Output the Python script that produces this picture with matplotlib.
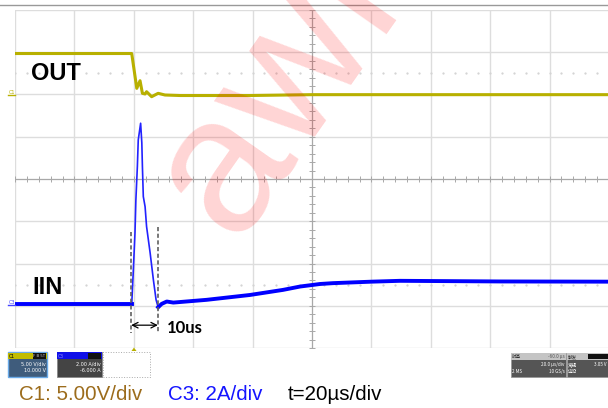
import matplotlib
matplotlib.use("Agg")
import matplotlib.pyplot as plt
from matplotlib.patches import Rectangle, Polygon
import numpy as np

# time in us from left edge of screen (20 us/div, 10 div)
out_t = [0, 39.3, 41.0, 42.1, 42.9, 43.8, 44.3, 46.0, 48.2, 50.5, 55.6, 79, 100, 200]
out_v = [4.85, 4.85, 0.73, 1.63, 0.14, 0.06, 0.33, -0.26, 0.14, -0.06, -0.12, -0.12, -0.02, -0.02]

iin_t = [0, 39.3, 39.8, 40.4, 40.7, 41.2, 41.5, 42.3, 42.7, 42.9, 43.2, 43.8, 44.3, 45.5,
         46.6, 47.5, 48.2, 49.4, 51.1, 53.3, 64.5, 79.1, 90.2, 96.0, 102.7, 107.1, 120.1,
         129.6, 163.3, 200]
iin_a = [0.02, 0.02, 1.51, 3.41, 4.97, 6.55, 7.81, 8.60, 7.67, 6.55, 5.13, 4.65, 3.71, 2.46,
         1.18, 0.24, -0.11, 0.05, 0.16, 0.11, 0.24, 0.47, 0.71, 0.87, 0.99, 1.03, 1.10,
         1.14, 1.11, 1.10]

pulse_start, pulse_end = 39.1, 48.1   # the 10us window

c1_scale, c1_zero = 5.0, 6.0    # V/div, ground position in div
c3_scale, c3_zero = 2.0, 1.02   # A/div

W, H = 608, 408
fig = plt.figure(figsize=(W / 100, H / 100), dpi=100)

def fx(x):
    return x / W

def fy(y):
    return 1 - y / H

ax = fig.add_axes([fx(15), fy(348), 594 / W, 338 / H])
ax.set_xlim(0, 200)
ax.set_ylim(0, 8)
ax.axis("off")

# grid
for gx in range(0, 201, 20):
    ax.axvline(gx, color="#dddddd", lw=1.0, zorder=0)
for gy in range(0, 9):
    ax.axhline(gy, color="#dddddd", lw=1.0, zorder=0)
ax.axvline(100, color="#a8a8a8", lw=0.8, zorder=0)
ax.axhline(4, color="#a8a8a8", lw=0.8, zorder=0)
ax.plot(np.arange(0, 201, 4), [4] * 51, ls="none", marker="|", ms=4, mew=0.7, color="#a8a8a8", zorder=0)
ax.plot([100] * 41, np.arange(0, 8.01, 0.2), ls="none", marker="_", ms=4, mew=0.7, color="#a8a8a8", zorder=0)
for dy in (6.5, 1.5):
    ax.plot(np.arange(0, 201, 4), [dy] * 51, ls="none", marker="s", ms=0.6, color="#d4d4d4", zorder=0)

# traces
out_y = np.array(out_v) / c1_scale + c1_zero
iin_y = np.array(iin_a) / c3_scale + c3_zero
ax.plot(out_t, out_y, color="#b8b000", lw=2.2, solid_joinstyle="round", zorder=3)
ax.plot(iin_t, iin_y, color="#2222ff", lw=1.2, zorder=3)
ax.plot(iin_t[:2], iin_y[:2], color="#0000ff", lw=2.8, zorder=3)
ax.plot(iin_t[16:], iin_y[16:], color="#0000ff", lw=2.8, zorder=3)

# 10us markers
ax.plot([pulse_start, pulse_start], [2.75, 0.36], color="#606060", lw=1.2, ls=(0, (2.5, 1.5)), zorder=4)
ax.plot([pulse_end, pulse_end], [2.86, 0.36], color="#606060", lw=1.2, ls=(0, (2.5, 1.5)), zorder=4)
ax.annotate("", xy=(pulse_end, 0.54), xytext=(pulse_start, 0.54),
            arrowprops=dict(arrowstyle="<->", lw=0.9, color="black", shrinkA=0, shrinkB=0), zorder=4)
ax.text(51.2, 0.47, "10us", fontsize=12, fontweight="bold", family="Lato", va="center", ha="left")

ax.text(5.4, 6.5, "OUT", fontsize=17, fontweight="bold", family="Liberation Sans", va="center")
ax.text(5.7, 1.44, "IIN", fontsize=17, fontweight="bold", family="Liberation Sans", va="center")

# top border line
fig.add_artist(plt.Line2D([0, 1], [fy(5), fy(5)], color="#999999", lw=1.0))

# channel ground markers
fig.text(fx(9), fy(92), "C1", fontsize=3.5, color="#b8b000", va="center")
fig.add_artist(plt.Line2D([fx(8), fx(15)], [fy(94.5), fy(94.5)], color="#b8b000", lw=1.0))
fig.text(fx(9), fy(302), "C3", fontsize=3.5, color="#4444ff", va="center")
fig.add_artist(plt.Line2D([fx(8), fx(15)], [fy(304.5), fy(304.5)], color="#4444ff", lw=1.0))

def box(x0, y0, x1, y1, **kw):
    fig.add_artist(Rectangle((fx(x0), fy(y1)), fx(x1) - fx(x0), fy(y0) - fy(y1),
                             transform=fig.transFigure, **kw))

# scope info boxes
box(7.5, 352, 47, 377, facecolor="#3f5c7c", edgecolor="#6aaae8", lw=1.0)
box(8, 352.5, 46.5, 359, facecolor="#c2bc00", edgecolor="none")
box(33, 353, 46, 358.5, facecolor="#111111", edgecolor="none")
fig.text(fx(9), fy(356), "C1", fontsize=3.3, color="black", va="center")
fig.text(fx(45.5), fy(356), "F B 5T", fontsize=2.8, color="#cccccc", va="center", ha="right")
fig.text(fx(46), fy(363.5), "5.00 V/div", fontsize=3.5, color="white", va="center", ha="right")
fig.text(fx(46), fy(370.5), "10.000 V", fontsize=3.5, color="white", va="center", ha="right")

box(57, 352, 102, 377, facecolor="#444444", edgecolor="#888888", lw=0.6)
box(57, 352, 102, 359, facecolor="#1010e8", edgecolor="none")
box(88, 353, 101, 358.5, facecolor="#111111", edgecolor="none")
fig.text(fx(58), fy(356), "C3", fontsize=3.3, color="#8888ff", va="center")
fig.text(fx(101), fy(363.5), "2.00 A/div", fontsize=3.5, color="white", va="center", ha="right")
fig.text(fx(101), fy(370.5), "-6.000 A", fontsize=3.5, color="white", va="center", ha="right")

box(102.5, 352, 150, 377, facecolor="white", edgecolor="#aaaaaa", lw=0.7, ls=":")
fig.add_artist(Polygon([(fx(131.5), fy(351)), (fx(136.5), fy(351)), (fx(134), fy(347.5))],
                       closed=True, transform=fig.transFigure, facecolor="#b8b000", edgecolor="none"))

cjk = ["Noto Sans CJK SC", "DejaVu Sans"]
box(511, 353, 565.5, 377, facecolor="#555555", edgecolor="#999999", lw=0.6)
box(511, 353, 565.5, 359.5, facecolor="#c4c4c4", edgecolor="none")
fig.text(fx(512), fy(356.3), "时基", fontsize=3.3, family=cjk, color="#333333", va="center")
fig.text(fx(564.5), fy(356.3), "-60.0 µs", fontsize=3.3, family=cjk, color="#555555", va="center", ha="right")
fig.text(fx(564.5), fy(364.5), "20.0 µs/div", fontsize=3.3, family=cjk, color="white", va="center", ha="right")
fig.text(fx(512), fy(371.5), "2 MS", fontsize=3.3, family=cjk, color="white", va="center")
fig.text(fx(564.5), fy(371.5), "10 GS/s", fontsize=3.3, family=cjk, color="white", va="center", ha="right")

box(567, 353, 610, 377, facecolor="#555555", edgecolor="#999999", lw=0.6)
box(567, 353, 610, 359.5, facecolor="#c4c4c4", edgecolor="none")
box(588, 353.5, 610, 359, facecolor="#111111", edgecolor="none")
fig.text(fx(568), fy(356.3), "触发", fontsize=3.3, family=cjk, color="#333333", va="center")
fig.text(fx(568), fy(364.5), "常规", fontsize=3.3, family=cjk, color="white", va="center")
fig.text(fx(568), fy(371.5), "边沿", fontsize=3.3, family=cjk, color="white", va="center")
fig.text(fx(607), fy(364.5), "3.05 V", fontsize=3.3, family=cjk, color="white", va="center", ha="right")

# scale captions
fig.text(fx(18.6), fy(395), "C1: 5.00V/div", fontsize=14.8, color="#9c6c1c", va="center", family="Liberation Sans")
fig.text(fx(168), fy(395), "C3: 2A/div", fontsize=14.8, color="#1515ff", va="center", family="Liberation Sans")
fig.text(fx(288), fy(395), "t=20µs/div", fontsize=14.8, color="black", va="center", family="Liberation Sans")

# watermark
fig.text(fx(234), fy(241), "awinic", fontsize=140, color="red", alpha=0.17, rotation=55,
         rotation_mode="anchor", ha="left", va="baseline", family="Liberation Sans", zorder=10)

fig.savefig("out.png", dpi=100)
